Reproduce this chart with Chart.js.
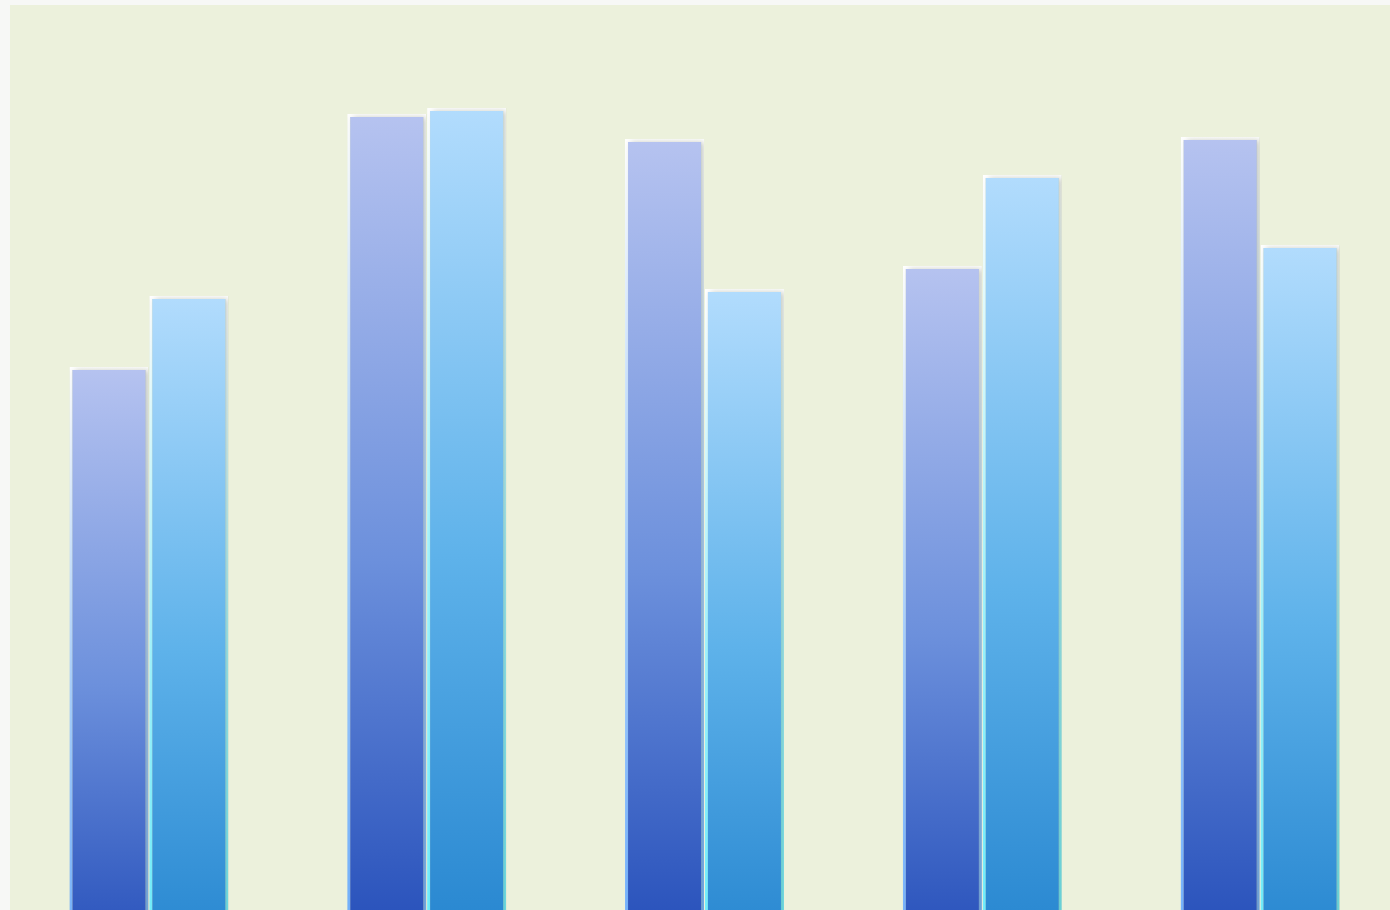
<!DOCTYPE html>
<html lang="en">
<head>
  <meta charset="UTF-8" />
  <title>Grouped bars</title>
  <script src="https://cdn.jsdelivr.net/npm/chart.js"></script>
  <style>
    html, body { margin: 0; padding: 0; overflow: hidden; background: #f7f8f6; width: 1390px; height: 910px; }
    #wrap { position: absolute; left: 10px; top: 5px; width: 1389px; height: 1000px; background: #ecf1dc; }
  </style>
</head>
<body>
  <div id="wrap"><canvas id="chart"></canvas></div>

  <script>
    // categories and series (baseline sits below the visible area)
    const categories = ['A', 'B', 'C', 'D', 'E'];
    const series1 = [63.8, 89.1, 86.6, 73.9, 86.8];
    const series2 = [70.9, 89.7, 71.6, 83.0, 76.0];

    const fills = [
      ['#b6c3f0', '#6c90dc', '#1a44b4'],
      ['#b2dcfd', '#5eb2ea', '#1d7ecb']
    ];
    const edges = [
      ['#ffffff', '#a8d0ff', '#66aaff'],
      ['#ffffff', '#a0f4ff', '#60eeff']
    ];

    function barGradient(ctx, stops) {
      const chart = ctx.chart;
      const area = chart.chartArea;
      if (!area || ctx.raw == null) return stops[0];
      const top = chart.scales.y.getPixelForValue(ctx.raw);
      const g = chart.ctx.createLinearGradient(0, top, 0, area.bottom);
      g.addColorStop(0, stops[0]);
      g.addColorStop(0.5, stops[1]);
      g.addColorStop(1, stops[2]);
      return g;
    }

    // soft shadow to the right of each bar
    const barShadow = {
      id: 'barShadow',
      beforeDatasetsDraw(chart) {
        const c = chart.ctx;
        c.save();
        c.shadowColor = 'rgba(80, 90, 60, 0.3)';
        c.shadowBlur = 6;
        c.shadowOffsetX = 3;
        c.shadowOffsetY = 0;
      },
      afterDatasetsDraw(chart) {
        chart.ctx.restore();
      }
    };

    new Chart(document.getElementById('chart'), {
      type: 'bar',
      data: {
        labels: categories,
        datasets: [series1, series2].map((d, i) => ({
          data: d,
          backgroundColor: ctx => barGradient(ctx, fills[i]),
          borderColor: ctx => barGradient(ctx, edges[i]),
          borderWidth: 3,
          borderSkipped: false,
          categoryPercentage: 0.575,
          barPercentage: 0.99
        }))
      },
      options: {
        responsive: true,
        maintainAspectRatio: false,
        animation: false,
        layout: { padding: 0 },
        plugins: {
          legend: { display: false },
          tooltip: { enabled: false }
        },
        scales: {
          x: { display: false },
          y: { display: false, min: 0, max: 100 }
        }
      },
      plugins: [barShadow]
    });
  </script>
</body>
</html>
